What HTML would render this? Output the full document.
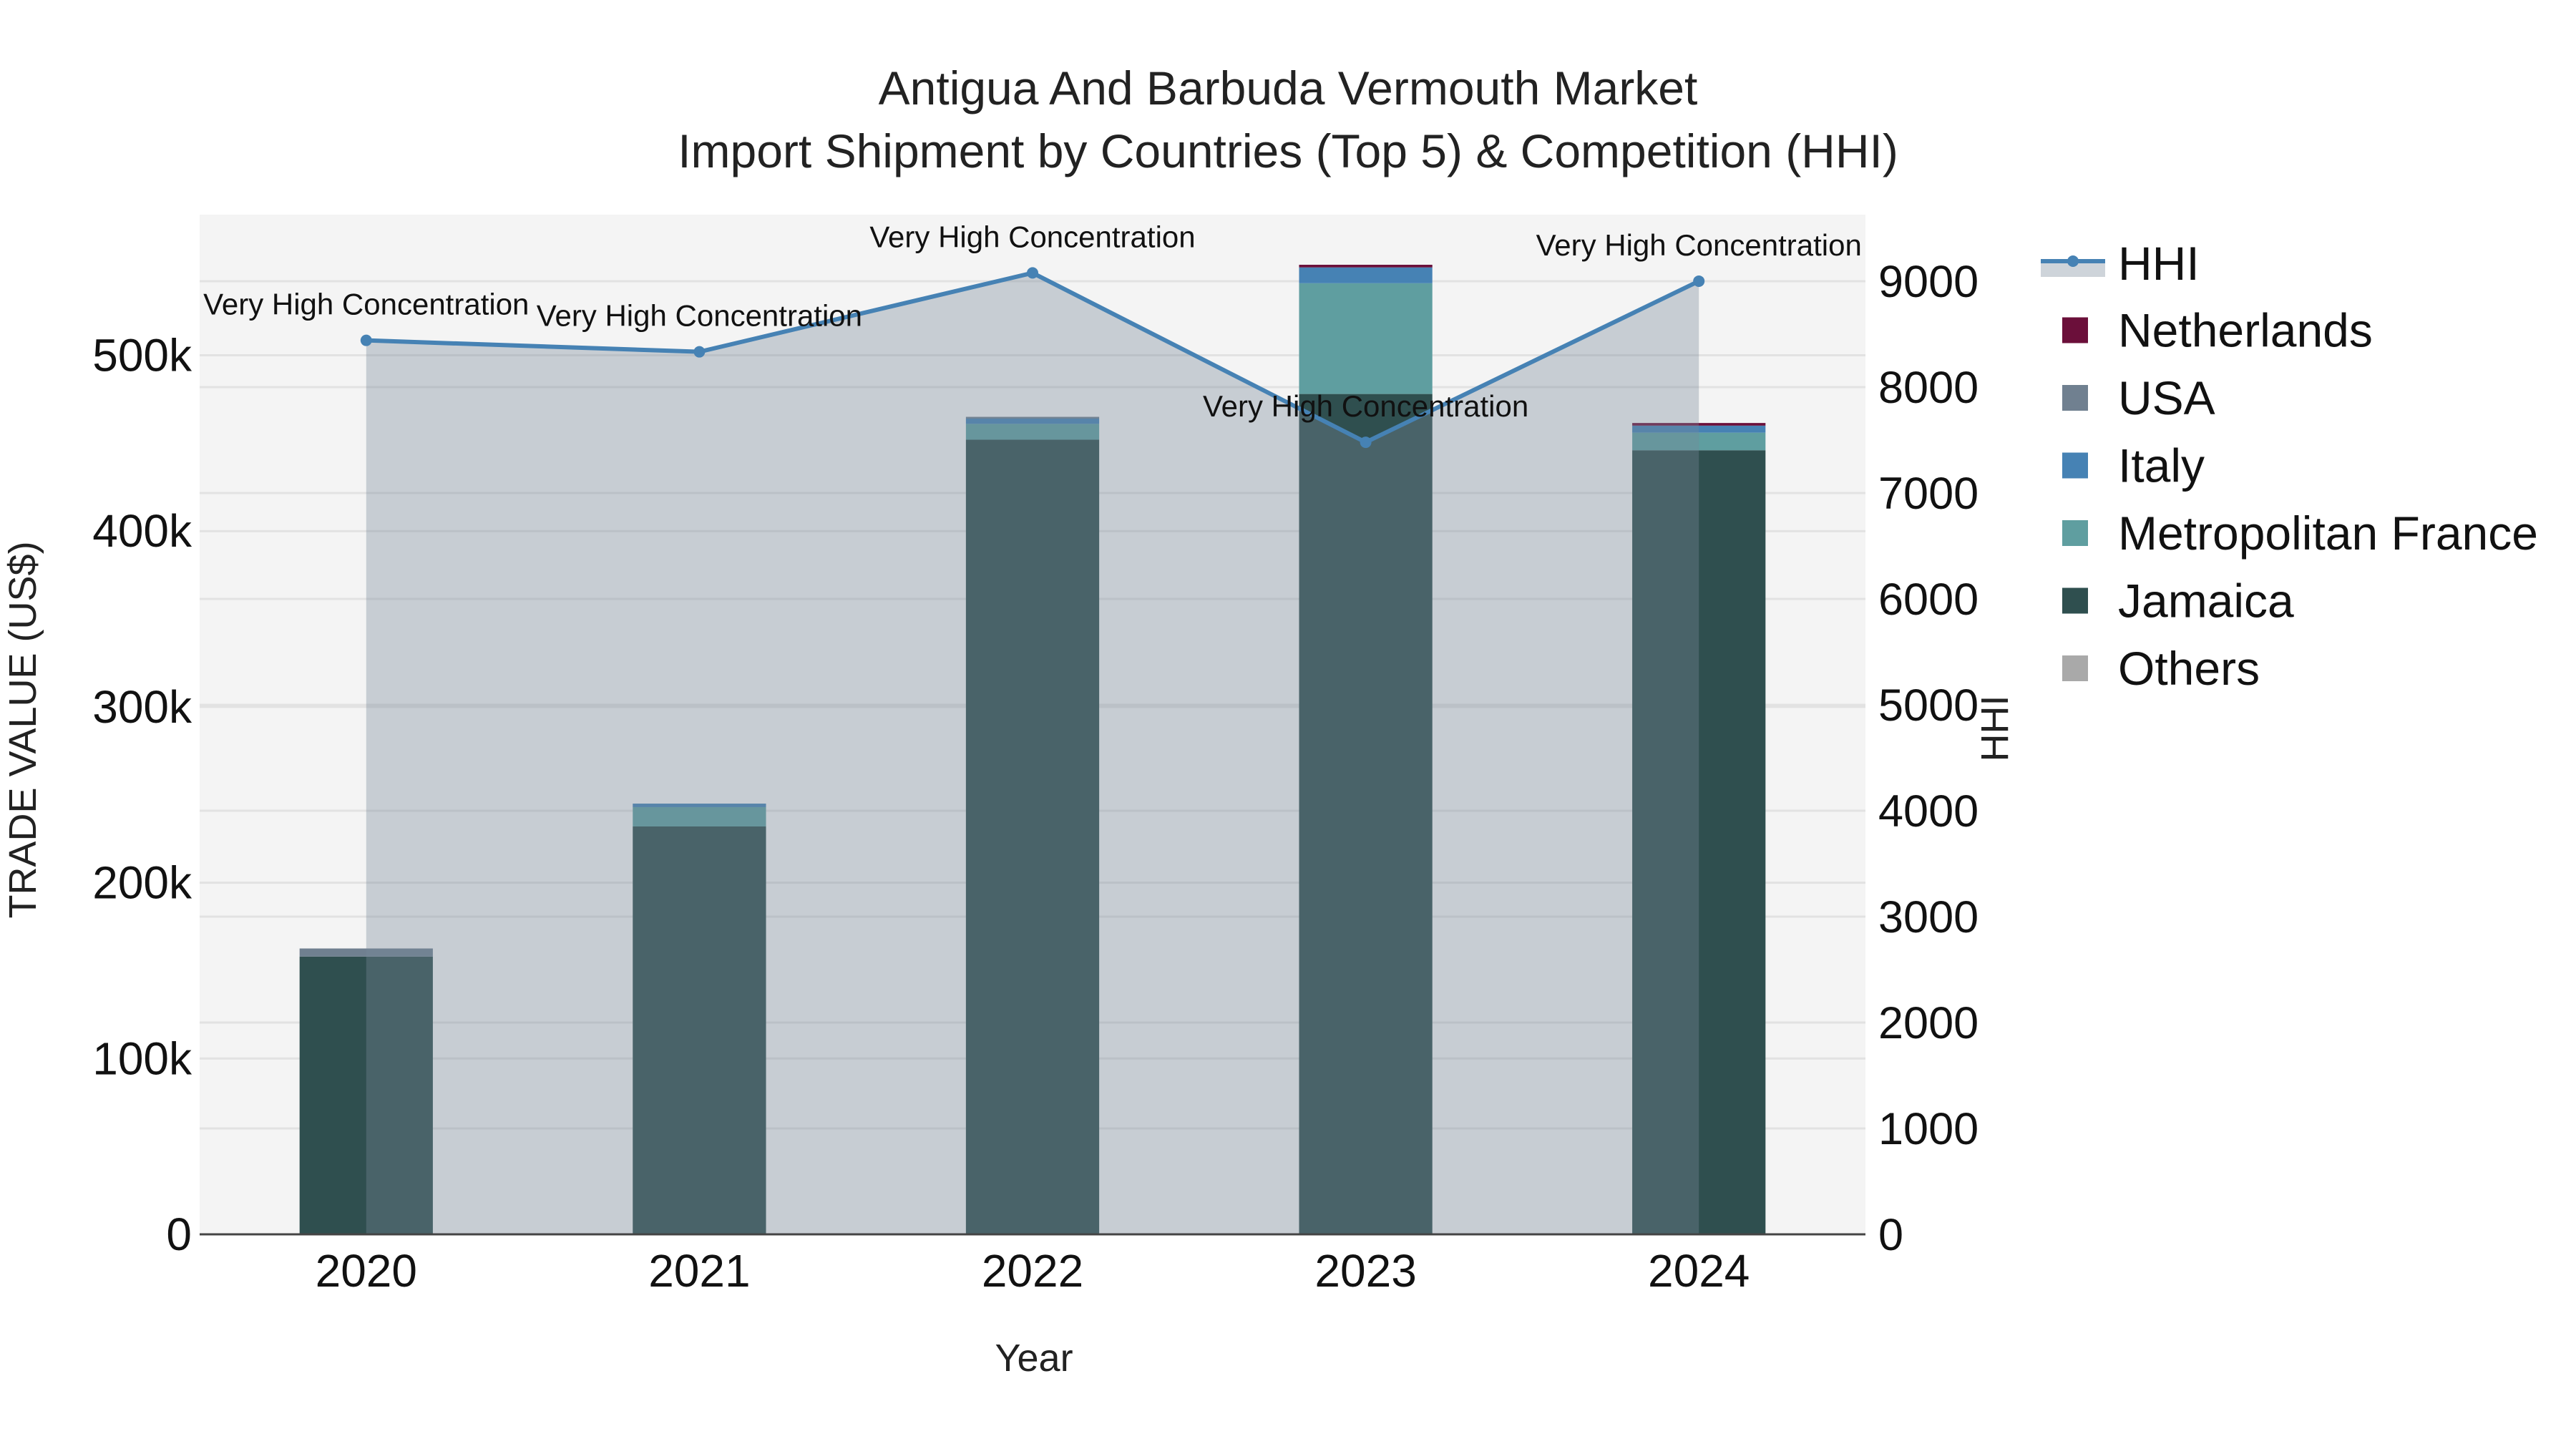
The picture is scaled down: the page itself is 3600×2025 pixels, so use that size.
<!DOCTYPE html>
<html><head><meta charset="utf-8"><style>
html,body{margin:0;padding:0;background:#fff;}
svg{display:block;font-family:"Liberation Sans",sans-serif;}
</style></head><body>
<svg id="chart" width="3600" height="2025" viewBox="0 0 3600 2025" xmlns="http://www.w3.org/2000/svg">
<rect x="279" y="300" width="2328" height="1425" fill="#f4f4f4"/>
<g id="grid"></g>
<g id="bars"></g>
<g id="area"></g>
<line x1="279" y1="1725" x2="2607" y2="1725" stroke="#444" stroke-width="3"/>
<g id="line"></g>
<g id="ticks"></g>
<text x="1800" y="146" text-anchor="middle" font-size="66" fill="#222">Antigua And Barbuda Vermouth Market</text>
<text x="1800" y="234" text-anchor="middle" font-size="66" fill="#222">Import Shipment by Countries (Top 5) &amp; Competition (HHI)</text>
<text x="1445" y="1916" text-anchor="middle" font-size="54" fill="#222">Year</text>
<text transform="translate(50,1020) rotate(-90)" text-anchor="middle" font-size="54" fill="#222">TRADE VALUE (US$)</text>
<text transform="translate(2806,1018) rotate(-90)" text-anchor="middle" font-size="54" fill="#222">HHI</text>
<g id="legend"></g>
</svg>
<script>
const years = ["2020","2021","2022","2023","2024"];
const jamaica = [158000, 232000, 452000, 478000, 446000];
const france = [0, 11000, 9000, 63000, 10000];
const italy = [0, 2000, 3000, 9000, 4000];
const usa = [4600, 0, 1000, 0, 0];
const netherlands = [0, 0, 0, 1500, 1500];
const others = [0, 0, 0, 0, 0];
const hhi = [8441, 8333, 9078, 7479, 9000];
const hhiLabels = ["Very High Concentration","Very High Concentration","Very High Concentration","Very High Concentration","Very High Concentration"];
const yTicks = [0,100000,200000,300000,400000,500000];
const yTickLabels = ["0","100k","200k","300k","400k","500k"];
const y2Ticks = [0,1000,2000,3000,4000,5000,6000,7000,8000,9000];

const NS="http://www.w3.org/2000/svg";
const L=279,R=2607,T=300,B=1725;
const yMax=580000, y2Max=9628;
const band=(R-L)/years.length;
function xC(i){return L+band*(i+0.5);}
function yV(v){return B-(v/yMax)*(B-T);}
function y2V(v){return B-(v/y2Max)*(B-T);}
function mk(tag,attrs,parent){const e=document.createElementNS(NS,tag);for(const k in attrs)e.setAttribute(k,attrs[k]);parent.appendChild(e);return e;}

const grid=document.getElementById('grid');
yTicks.forEach(v=>{if(v>0){const l=mk('line',{x1:L,x2:R,y1:yV(v),y2:yV(v),stroke:'#e2e2e2','stroke-width':3},grid);

}});
y2Ticks.forEach(v=>{if(v>0){const l=mk('line',{x1:L,x2:R,y1:y2V(v),y2:y2V(v),stroke:'#e2e2e2','stroke-width':3},grid);

}});

const series=[["jamaica",jamaica,"#2F4F4F"],["france",france,"#5F9EA0"],["italy",italy,"#4682B4"],["usa",usa,"#708090"],["netherlands",netherlands,"#6B0F3A"],["others",others,"#A9A9A9"]];
const bars=document.getElementById('bars');
const bw=band*0.4;
years.forEach((yr,i)=>{let base=0;series.forEach(s=>{const v=s[1][i];if(v>0){const r=mk('rect',{x:xC(i)-bw/2,y:yV(base+v),width:bw,height:yV(base)-yV(base+v),fill:s[2]},bars);

}base+=v;});});

const area=document.getElementById('area');
let d='M'+xC(0)+','+B;hhi.forEach((v,i)=>{d+=' L'+xC(i)+','+y2V(v);});d+=' L'+xC(hhi.length-1)+','+B+' Z';
const ap=mk('path',{d:d,fill:'rgba(119,136,153,0.36)'},area);



const lg=document.getElementById('line');
const pts=hhi.map((v,i)=>xC(i)+','+y2V(v)).join(' ');
const pl=mk('polyline',{points:pts,fill:'none',stroke:'#4682B4','stroke-width':6},lg);


hhi.forEach((v,i)=>{const c=mk('circle',{cx:xC(i),cy:y2V(v),r:8,fill:'#4682B4'},lg);


const t=mk('text',{x:xC(i),y:y2V(v)-36,'text-anchor':'middle','font-size':42,fill:'#111'},lg);t.textContent=hhiLabels[i];

});

const tk=document.getElementById('ticks');
yTicks.forEach((v,i)=>{const t=mk('text',{x:268,y:yV(v)+22,'text-anchor':'end','font-size':64,fill:'#111'},tk);t.textContent=yTickLabels[i];

});
y2Ticks.forEach(v=>{const t=mk('text',{x:2625,y:y2V(v)+22,'text-anchor':'start','font-size':63,fill:'#111'},tk);t.textContent=String(v);

});
years.forEach((yr,i)=>{const t=mk('text',{x:xC(i),y:1798,'text-anchor':'middle','font-size':64,fill:'#111'},tk);t.textContent=yr;

});

const leg=document.getElementById('legend');
const legItems=[["Netherlands","#6B0F3A"],["USA","#708090"],["Italy","#4682B4"],["Metropolitan France","#5F9EA0"],["Jamaica","#2F4F4F"],["Others","#A9A9A9"]];
const ly0=369, ls=94.5;
const h1=mk('rect',{x:2852,y:367,width:90,height:20,fill:'rgba(119,136,153,0.36)'},leg);


mk('line',{x1:2852,x2:2942,y1:365,y2:365,stroke:'#4682B4','stroke-width':6},leg);
mk('circle',{cx:2897,cy:365,r:8,fill:'#4682B4'},leg);
const ht=mk('text',{x:2960,y:ly0+22,'font-size':66,fill:'#111'},leg);ht.textContent='HHI';


legItems.forEach((it,i)=>{const y=ly0-2+ls*(i+1);
const r=mk('rect',{x:2882,y:y-18,width:36,height:36,fill:it[1]},leg);


const t=mk('text',{x:2960,y:y+23,'font-size':66,fill:'#111'},leg);t.textContent=it[0];

});
</script>
</body></html>
